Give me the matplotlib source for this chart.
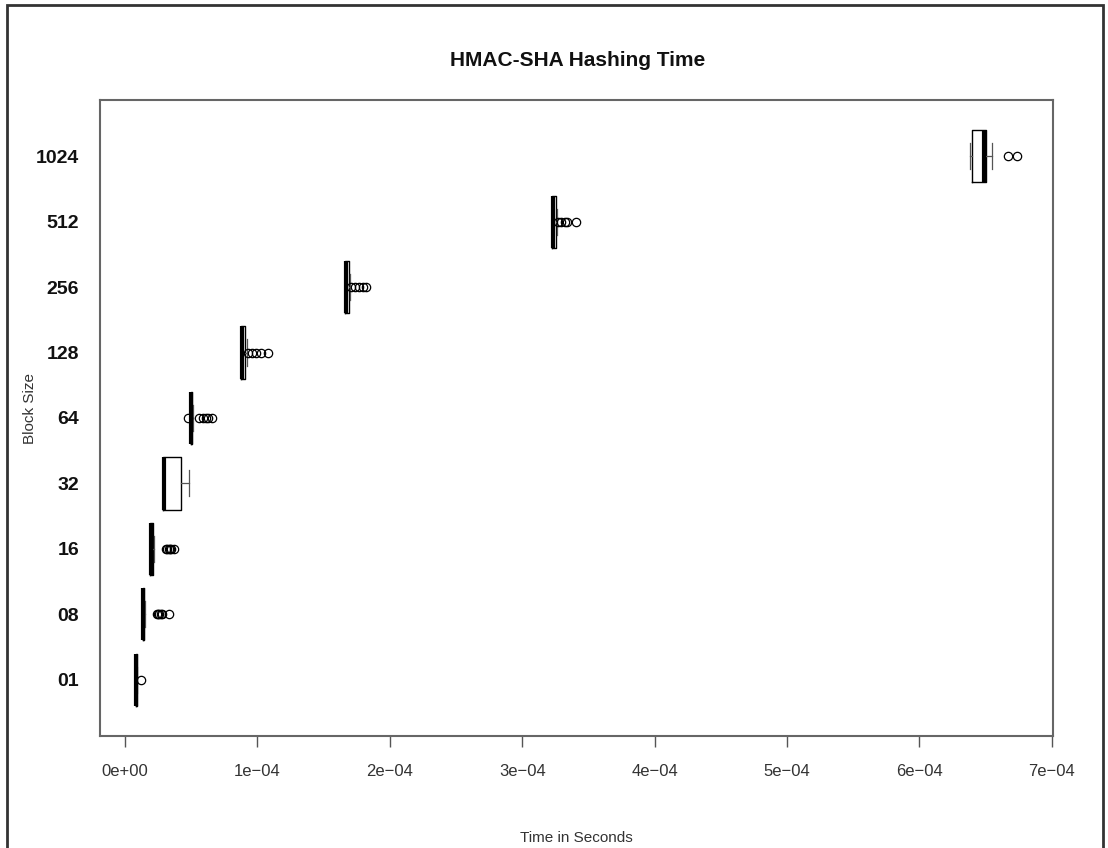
import matplotlib
matplotlib.use("Agg")
import matplotlib.pyplot as plt
from matplotlib.patches import Rectangle

plt.rcParams['font.family'] = ['Liberation Sans', 'DejaVu Sans']

# hashing time per block size, in units of 1e-4 s
block_sizes = ["01", "08", "16", "32", "64", "128", "256", "512", "1024"]
med = [0.083, 0.136, 0.196, 0.295, 0.500, 0.880, 1.667, 3.230, 6.490]
q1 = [0.080, 0.132, 0.190, 0.287, 0.497, 0.877, 1.662, 3.226, 6.400]
q3 = [0.087, 0.142, 0.212, 0.423, 0.505, 0.905, 1.690, 3.258, 6.500]
whislo = [0.078, 0.128, 0.186, 0.287, 0.495, 0.875, 1.660, 3.222, 6.380]
whishi = [0.093, 0.150, 0.220, 0.483, 0.512, 0.920, 1.700, 3.265, 6.550]
fliers = [
    [0.12],
    [0.24, 0.25, 0.26, 0.27, 0.28, 0.33],
    [0.31, 0.32, 0.33, 0.34, 0.35, 0.37],
    [],
    [0.476, 0.56, 0.59, 0.61, 0.63, 0.66],
    [0.93, 0.96, 0.99, 1.03, 1.08],
    [1.71, 1.74, 1.77, 1.80, 1.82],
    [3.27, 3.29, 3.32, 3.34, 3.41],
    [6.67, 6.74],
]
xticks = [0, 1e-4, 2e-4, 3e-4, 4e-4, 5e-4, 6e-4, 7e-4]
xtick_labels = ["0e+00", "1e\u221204", "2e\u221204", "3e\u221204", "4e\u221204",
                "5e\u221204", "6e\u221204", "7e\u221204"]

scale = 1e-4
stats = []
for i in range(len(block_sizes)):
    stats.append({
        "med": med[i] * scale, "q1": q1[i] * scale, "q3": q3[i] * scale,
        "whislo": whislo[i] * scale, "whishi": whishi[i] * scale,
        "fliers": [f * scale for f in fliers[i]],
    })

fig = plt.figure(figsize=(11.08, 8.48), dpi=100)
ax = fig.add_axes([0.0903, 0.1321, 0.8601, 0.7500])

pos = list(range(1, len(block_sizes) + 1))
ax.bxp(stats, positions=pos, widths=0.8, capwidths=0.4, orientation='horizontal',
       showfliers=True, patch_artist=False,
       boxprops=dict(color='black', linewidth=1.0),
       medianprops=dict(color='black', linewidth=3.0, solid_capstyle='butt'),
       whiskerprops=dict(color='#555555', linewidth=0.9, linestyle='-'),
       capprops=dict(color='#555555', linewidth=0.9),
       flierprops=dict(marker='o', markerfacecolor='none', markeredgecolor='black',
                       markersize=6, markeredgewidth=0.9))

ax.set_xlim(-0.189e-4, 7.01e-4)
ax.set_ylim(0.14, 9.86)
ax.set_xticks(xticks)
ax.set_xticklabels(xtick_labels, fontsize=12, color='#333333')
ax.set_yticks(pos)
ax.set_yticklabels(block_sizes, fontsize=14, fontweight='bold', color='#111111')
ax.tick_params(axis='x', length=8, width=1.0, color='#555555', pad=12)
ax.tick_params(axis='y', length=0, pad=15)
for s in ax.spines.values():
    s.set_color('#666666')
    s.set_linewidth(1.5)

fig.text(0.5215, 0.929, "HMAC-SHA Hashing Time", ha='center', va='center',
         fontsize=15, fontweight='bold', color='#111111')
fig.text(0.5205, 0.012, "Time in Seconds", ha='center', va='center',
         fontsize=11, color='#333333')
fig.text(0.027, 0.518, "Block Size", ha='center', va='center', rotation=90,
         fontsize=11, color='#333333')

fig.patches.append(Rectangle((7 / 1108, -0.05), 1096 / 1108, 1.05 - 5.5 / 848,
                             transform=fig.transFigure, fill=False,
                             edgecolor='#333333', linewidth=2.0))

fig.savefig("out.png", dpi=100)
